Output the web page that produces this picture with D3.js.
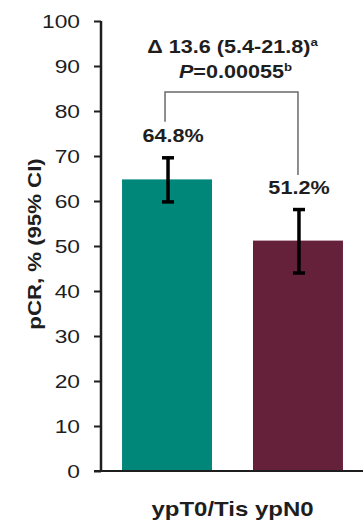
<!DOCTYPE html>
<html>
<head>
<meta charset="utf-8">
<script src="https://cdn.jsdelivr.net/npm/d3@7"></script>
<style>
  html, body { margin: 0; padding: 0; background: #fff; }
  svg { display: block; }
  text { font-family: "Liberation Sans", Arial, sans-serif; fill: #1e1e1e; }
</style>
</head>
<body>
<svg id="chart" width="363" height="527"></svg>
<script>
// Treatment arms and pathological complete response (%) with 95% CI
const arms = ["Pembrolizumab + chemotherapy", "Placebo + chemotherapy"];
const pcr = [64.8, 51.2];
const ciLow = [59.8, 44.0];
const ciHigh = [69.6, 58.1];
const barColors = ["#00877a", "#65203a"];
const yTicks = [0, 10, 20, 30, 40, 50, 60, 70, 80, 90, 100];
const yTitle = "pCR, % (95% CI)";
const xTitle = "ypT0/Tis ypN0";
const deltaText = ["Δ 13.6 (5.4-21.8)", "a"];
const pText = ["P", "=0.00055", "b"];
// Comparison bracket heights (in % units): top, left end, right end
const bracketLevels = [84.2, 77.6, 65.8];

const W = 363, H = 527;
const margin = { left: 102, right: 0, top: 21, bottom: 56 };
const SX = 1.2; // horizontal widening of the lettering

const svg = d3.select("#chart");

const x = d3.scaleBand()
  .domain(arms)
  .range([margin.left, W - margin.right])
  .paddingInner(0.313)
  .paddingOuter(0.153);

const y = d3.scaleLinear()
  .domain([0, 100])
  .range([H - margin.bottom, margin.top]);

const wide = (sel, px, py, rot) =>
  sel.attr("transform", `translate(${px},${py})${rot ? ` rotate(${rot})` : ""} scale(${SX},1)`);

// Bars
svg.append("g")
  .selectAll("rect")
  .data(arms)
  .join("rect")
  .attr("x", d => x(d))
  .attr("width", x.bandwidth())
  .attr("y", (d, i) => y(pcr[i]))
  .attr("height", (d, i) => y(0) - y(pcr[i]))
  .attr("fill", (d, i) => barColors[i]);

// Y axis
const yAxis = svg.append("g")
  .attr("transform", `translate(${margin.left - 1},0)`)
  .call(d3.axisLeft(y).tickValues(yTicks).tickSize(7).tickSizeOuter(0));
yAxis.select(".domain").remove();
yAxis.selectAll(".tick line").attr("stroke", "#1e1e1e").attr("stroke-width", 2);
yAxis.selectAll(".tick text")
  .attr("x", null)
  .attr("dy", "0.35em")
  .attr("fill", "#1e1e1e")
  .style("font-size", "19px")
  .attr("text-anchor", "end")
  .each(function () { wide(d3.select(this), -21, 0); });
svg.append("line")
  .attr("x1", margin.left - 1).attr("x2", margin.left - 1)
  .attr("y1", y(100)).attr("y2", y(0))
  .attr("stroke", "#1e1e1e").attr("stroke-width", 2.5);

// X axis baseline
svg.append("line")
  .attr("x1", margin.left - 8).attr("x2", W)
  .attr("y1", y(0)).attr("y2", y(0))
  .attr("stroke", "#1e1e1e").attr("stroke-width", 2);

// Error bars
const err = svg.append("g").attr("stroke", "#000").attr("stroke-width", 3.5);
arms.forEach((a, i) => {
  const cx = x(a) + x.bandwidth() / 2 + 1;
  err.append("line").attr("x1", cx).attr("x2", cx).attr("y1", y(ciLow[i])).attr("y2", y(ciHigh[i]));
  [ciLow[i], ciHigh[i]].forEach(v => {
    err.append("line").attr("x1", cx - 6).attr("x2", cx + 6).attr("y1", y(v)).attr("y2", y(v));
  });
});

// Value labels
const labelShift = [6, 1];
arms.forEach((a, i) => {
  svg.append("text")
    .attr("text-anchor", "middle")
    .style("font-size", "18px").style("font-weight", "bold")
    .text(`${pcr[i]}%`)
    .call(s => wide(s, x(a) + x.bandwidth() / 2 + labelShift[i], y(ciHigh[i]) - 16));
});

// Comparison bracket
const bx0 = x(arms[0]) + x.bandwidth() / 2 - 2;
const bx1 = x(arms[1]) + x.bandwidth() / 2;
svg.append("path")
  .attr("d", d3.line()([
    [bx0, y(bracketLevels[1])], [bx0, y(bracketLevels[0])],
    [bx1, y(bracketLevels[0])], [bx1, y(bracketLevels[2])]
  ]))
  .attr("fill", "none").attr("stroke", "#6a6a6a").attr("stroke-width", 1.5);

// Difference and P value annotation
const annX = (x(arms[0]) + x(arms[1]) + x.bandwidth()) / 2;
const t1 = svg.append("text").attr("text-anchor", "middle")
  .style("font-size", "18px").style("font-weight", "bold");
t1.append("tspan").text(deltaText[0]);
t1.append("tspan").text(deltaText[1]).style("font-size", "11px").attr("dy", "-7");
wide(t1, annX, 53);

const t2 = svg.append("text").attr("text-anchor", "middle")
  .style("font-size", "18px").style("font-weight", "bold");
t2.append("tspan").text(pText[0]).style("font-style", "italic");
t2.append("tspan").text(pText[1]);
t2.append("tspan").text(pText[2]).style("font-size", "11px").attr("dy", "-7");
wide(t2, annX + 3, 78);

// Axis titles
svg.append("text")
  .attr("text-anchor", "middle")
  .style("font-size", "18.5px").style("font-weight", "bold")
  .text(yTitle)
  .call(s => wide(s, 41, 244, -90));

svg.append("text")
  .attr("text-anchor", "middle")
  .style("font-size", "20px").style("font-weight", "bold")
  .text(xTitle)
  .call(s => wide(s, annX, 516));
</script>
</body>
</html>
